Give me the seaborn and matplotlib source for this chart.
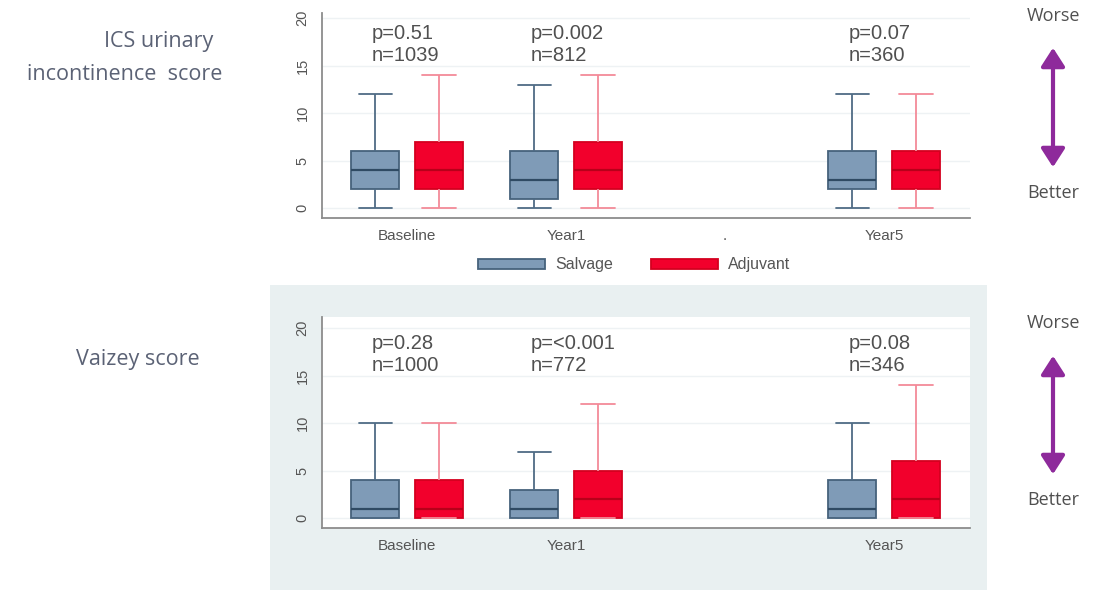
#!/usr/bin/env python3
"""Box plots of ICS urinary incontinence and Vaizey scores, salvage vs adjuvant."""

import numpy as np
import pandas as pd
import matplotlib
matplotlib.use("Agg")
import matplotlib.pyplot as plt
import seaborn as sns
from matplotlib.colors import to_hex
from matplotlib.patches import Patch, Rectangle, FancyArrowPatch

sns.set_style("white")
plt.rcParams["font.family"] = ["Liberation Sans", "DejaVu Sans"]

# Data: five-number summaries (min, q1, median, q3, max)
order = ["Baseline", "Year1", "Year3", "Year5"]
order_labels = ["Baseline", "Year1", ".", "Year5"]
periods = ["Baseline", "Year1", "Year5"]
groups = ["Salvage", "Adjuvant"]

ics_salvage = [[0, 2, 4, 6, 12], [0, 1, 3, 6, 13], [0, 2, 3, 6, 12]]
ics_adjuvant = [[0, 2, 4, 7, 14], [0, 2, 4, 7, 14], [0, 2, 4, 6, 12]]
ics_p = ["p=0.51", "p=0.002", "p=0.07"]
ics_n = ["n=1039", "n=812", "n=360"]

vaizey_salvage = [[0, 0, 1, 4, 10], [0, 0, 1, 3, 7], [0, 0, 1, 4, 10]]
vaizey_adjuvant = [[0, 0, 1, 4, 10], [0, 0, 2, 5, 12], [0, 0, 2, 6, 14]]
vaizey_p = ["p=0.28", "p=<0.001", "p=0.08"]
vaizey_n = ["n=1000", "n=772", "n=346"]

fill = {"Salvage": "#7f9bb7", "Adjuvant": "#f2002c"}
edge = {"Salvage": "#46627c", "Adjuvant": "#d4001f"}
whisk = {"Salvage": "#4f6b85", "Adjuvant": "#f38a98"}
median = {"Salvage": "#2f4a63", "Adjuvant": "#b8001a"}
TEXT = "#505050"
LABEL = "#5b6275"
W, H = 1102, 590


def to_long(salvage, adjuvant):
    rows = []
    for group, summaries in (("Salvage", salvage), ("Adjuvant", adjuvant)):
        for period, values in zip(periods, summaries):
            for v in values:
                rows.append({"period": period, "group": group, "value": v})
    return pd.DataFrame(rows)


def widen_caps(ax, half=0.105):
    # seaborn draws caps at half the box width; the original is wider
    cap_colors = {to_hex(c) for c in whisk.values()}
    for ln in ax.get_lines():
        x = np.asarray(ln.get_xdata(), dtype=float)
        y = np.asarray(ln.get_ydata(), dtype=float)
        if (to_hex(ln.get_color()) in cap_colors and len(y)
                and np.ptp(y) == 0 and np.ptp(x) > 0):
            c = x.mean()
            ln.set_xdata([c - half, c + half])


def draw_panel(ax, df, pvals, nvals, xlabels):
    for g in groups:
        sns.boxplot(
            data=df[df["group"] == g], x="period", y="value", hue="group",
            order=order, hue_order=groups, palette=fill, dodge=True,
            width=0.8, gap=0.25, saturation=1,
            whis=(0, 100), linecolor=edge[g], linewidth=1.3, fliersize=0,
            whiskerprops={"color": whisk[g]}, capprops={"color": whisk[g]},
            medianprops={"color": median[g], "linewidth": 1.6},
            legend=False, ax=ax,
        )
    widen_caps(ax)
    ax.set_xlim(-0.535, 3.54)
    ax.set_yticks([0, 5, 10, 15, 20])
    ax.yaxis.grid(True, color="#eef2f4", linewidth=1)
    ax.set_axisbelow(True)
    ax.set_xlabel("")
    ax.set_ylabel("")
    ax.set_xticks(range(len(order)))
    ax.set_xticklabels(xlabels, fontsize=11, color="#555555")
    ax.tick_params(axis="x", length=0, pad=8)
    ax.tick_params(axis="y", length=5, width=1, color="#888888", pad=4,
                   labelsize=10.5, labelcolor="#555555")
    for t in ax.get_yticklabels():
        t.set_rotation(90)
        t.set_va("center")
        t.set_ha("right")
    for side in ("top", "right"):
        ax.spines[side].set_visible(False)
    for side in ("left", "bottom"):
        ax.spines[side].set_color("#8c8c8c")
        ax.spines[side].set_linewidth(1.3)
    ax.set_facecolor("white")
    for i, period in enumerate(periods):
        xpos = order.index(period) - 0.22
        ax.text(xpos, 17.2, f"{pvals[i]}\n{nvals[i]}", fontsize=14.5,
                color=TEXT, ha="left", va="center", linespacing=1.2)


def arrow(fig, y_worse, y_top, y_bot, y_better):
    x = 1053 / W
    fig.text(x, 1 - y_worse / H, "Worse", ha="center", va="center",
             fontsize=13, color=TEXT, family=["Open Sans", "DejaVu Sans"])
    fig.text(x, 1 - y_better / H, "Better", ha="center", va="center",
             fontsize=13, color=TEXT, family=["Open Sans", "DejaVu Sans"])
    fig.add_artist(FancyArrowPatch(
        (x, 1 - y_bot / H), (x, 1 - y_top / H), transform=fig.transFigure,
        arrowstyle="<|-|>,head_length=7,head_width=4.5", color="#8e2a9b",
        linewidth=3, mutation_scale=1.6))


fig = plt.figure(figsize=(W / 100, H / 100), dpi=100)
fig.patch.set_facecolor("white")

# light panel behind the lower chart
fig.add_artist(Rectangle((270 / W, 0), (987 - 270) / W, 1 - 285 / H,
                         transform=fig.transFigure, facecolor="#e9f0f1",
                         edgecolor="none", zorder=-1))

left, width = 322 / W, (970 - 322) / W
ax1 = fig.add_axes([left, (H - 218) / H, width, 204.7 / H])
ax2 = fig.add_axes([left, (H - 528) / H, width, 211.4 / H])

draw_panel(ax1, to_long(ics_salvage, ics_adjuvant), ics_p, ics_n, order_labels)
ax1.set_ylim(-1.05, 20.5)
draw_panel(ax2, to_long(vaizey_salvage, vaizey_adjuvant), vaizey_p, vaizey_n,
           ["Baseline", "Year1", "", "Year5"])
ax2.set_ylim(-1.05, 21.2)

# legend under the upper chart
handles = [Patch(facecolor=fill[g], edgecolor=edge[g], linewidth=1.3, label=g)
           for g in groups]
fig.legend(handles=handles, loc="center", bbox_to_anchor=(634 / W, 1 - 265 / H),
           ncol=2, frameon=False, fontsize=11.5, handlelength=4.2,
           handleheight=0.55, columnspacing=2.4, handletextpad=0.6,
           labelcolor="#555555")

# row titles
fig.text(213 / W, 1 - 42 / H, "ICS urinary", ha="right", va="center",
         fontsize=15.5, color=LABEL, family=["Open Sans", "DejaVu Sans"])
fig.text(222 / W, 1 - 75 / H, "incontinence  score", ha="right", va="center",
         fontsize=15.5, color=LABEL, family=["Open Sans", "DejaVu Sans"])
fig.text(200 / W, 1 - 360 / H, "Vaizey score", ha="right", va="center",
         fontsize=15.5, color=LABEL, family=["Open Sans", "DejaVu Sans"])

arrow(fig, 16, 45, 170, 193)
arrow(fig, 323, 353, 477, 500)

fig.savefig("out.png", dpi=100)
